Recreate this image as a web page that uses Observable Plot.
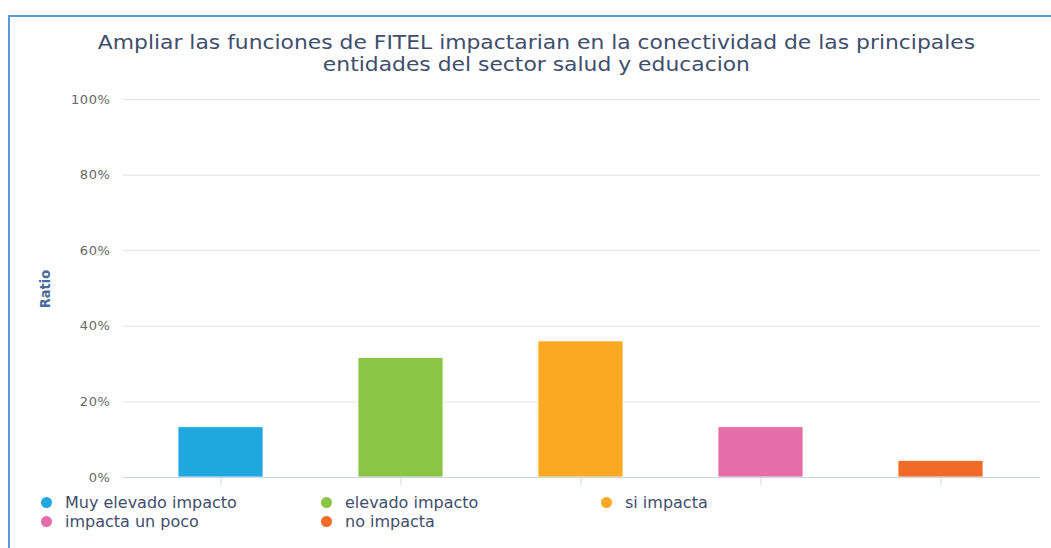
<!DOCTYPE html>
<html>
<head>
<meta charset="utf-8">
<script src="https://cdn.jsdelivr.net/npm/d3@7"></script>
<script src="https://cdn.jsdelivr.net/npm/@observablehq/plot@0.6"></script>
<style>
  html, body { margin: 0; padding: 0; background: #fff; width: 1051px; height: 548px; overflow: hidden; }
  #frame { position: absolute; left: 8px; top: 15px; width: 1100px; height: 600px;
           border-top: 2px solid #5b9bd9; border-left: 2px solid #5b9bd9; box-sizing: border-box; }
  #title { position: absolute; left: 0; top: 31px; width: 1072px; text-align: center; }
  #title span { display: inline-block; transform: scaleX(1.15); transform-origin: center;
           font-family: "DejaVu Sans", sans-serif; font-size: 19px; line-height: 22px; color: #3e4e6c; }
  #chart { position: absolute; left: 0; top: 85px; }
  #chart svg text { letter-spacing: 0.6px; }
  #ylabel { position: absolute; left: 45px; top: 289px; transform: translate(-50%, -50%) rotate(-90deg);
            font-family: "DejaVu Sans Condensed", "DejaVu Sans", sans-serif; font-weight: bold; font-size: 14.5px; color: #4a6b98; white-space: nowrap; }
  #legend { position: absolute; left: 41px; top: 493px; font-family: "DejaVu Sans", sans-serif; font-size: 16px; color: #3e4e6c; }
  .item { position: absolute; white-space: nowrap; display: flex; align-items: center; }
  .dot { width: 11px; height: 11px; border-radius: 50%; margin-right: 13px; }
</style>
</head>
<body>
<div id="frame"></div>
<div id="title"><span>Ampliar las funciones de FITEL impactarian en la conectividad de las principales<br>entidades del sector salud y educacion</span></div>
<div id="chart"></div>
<div id="ylabel">Ratio</div>
<div id="legend"></div>
<script>
const categories = ["Muy elevado impacto", "elevado impacto", "si impacta", "impacta un poco", "no impacta"];
const values = [0.133, 0.316, 0.360, 0.133, 0.044];
const colors = ["#1fa8e0", "#8bc546", "#fba922", "#e56ea9", "#f26b26"];
const yTicks = [0, 0.2, 0.4, 0.6, 0.8, 1.0];

const data = categories.map((c, i) => ({category: c, value: values[i]}));

const chart = Plot.plot({
  width: 1051,
  height: 410,
  marginLeft: 123,
  marginRight: 11,
  marginTop: 14,
  marginBottom: 18,
  style: {fontFamily: "DejaVu Sans, sans-serif", background: "transparent"},
  x: {domain: categories, paddingInner: 0.53, paddingOuter: 0.265, insetLeft: 7, insetRight: 9, label: null},
  y: {domain: [0, 1], label: null},
  color: {domain: categories, range: colors},
  marks: [
    Plot.ruleY(yTicks.filter(d => d > 0), {stroke: "#e3e3e3", strokeWidth: 1, strokeOpacity: 1}),
    Plot.axisY({ticks: yTicks, tickFormat: d3.format(".0%"), tickSize: 0, tickPadding: 13,
                fontSize: 13, fill: "#666666", label: null}),
    Plot.barY(data, {x: "category", y: "value", fill: "category", stroke: "white", strokeWidth: 0.8}),
    Plot.ruleY([0], {stroke: "#ccd6eb", strokeWidth: 1.2}),
    Plot.axisX({tickSize: 8, tickFormat: () => "", stroke: "#ccd6eb", label: null})
  ]
});
document.getElementById("chart").appendChild(chart);

const legend = document.getElementById("legend");
categories.forEach((c, i) => {
  const el = document.createElement("div");
  el.className = "item";
  el.style.left = (280 * (i % 3)) + "px";
  el.style.top = (19 * Math.floor(i / 3)) + "px";
  const dot = document.createElement("span");
  dot.className = "dot";
  dot.style.background = colors[i];
  const t = document.createElement("span");
  t.textContent = c;
  el.appendChild(dot);
  el.appendChild(t);
  legend.appendChild(el);
});
</script>
</body>
</html>
